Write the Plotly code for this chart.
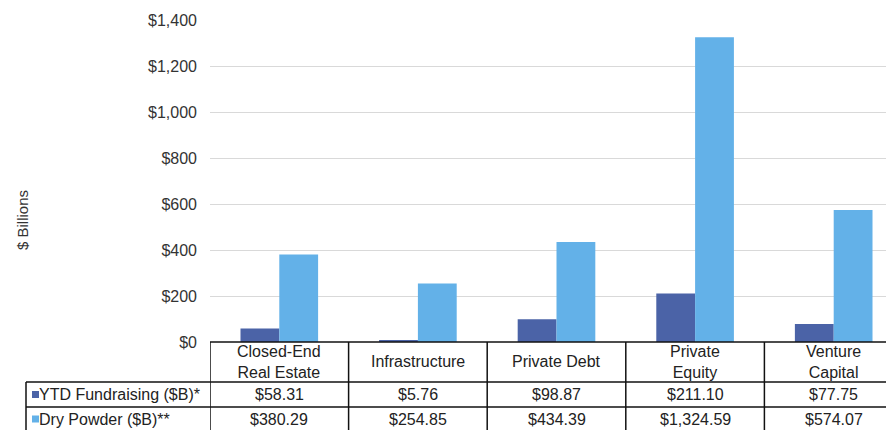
import plotly.graph_objects as go

categories = ["Closed-End<br>Real Estate", "Infrastructure", "Private Debt", "Private<br>Equity", "Venture<br>Capital"]
series_names = ["YTD Fundraising ($B)*", "Dry Powder ($B)**"]
ytd_fundraising = [58.31, 5.76, 98.87, 211.10, 77.75]
dry_powder = [380.29, 254.85, 434.39, 1324.59, 574.07]
tick_vals = [0, 200, 400, 600, 800, 1000, 1200, 1400]
tick_text = ["$0", "$200", "$400", "$600", "$800", "$1,000", "$1,200", "$1,400"]

colors = ["#4B63A7", "#63B1E8"]
W, H = 886, 430
ML, MR, MT, MB = 210, 0, 20, 88
PW, PH = W - ML - MR, H - MT - MB
FONT = "Liberation Sans, Arial, sans-serif"
TXT = "#222222"

def px_to_py(y):
    return (H - MB - y) / PH

def px_to_px(x):
    return (x - ML) / PW

n = len(categories)
xs = list(range(n))
col_w = 138.6
x_max = (PW / col_w) - 0.5

fig = go.Figure()
for name, vals, c in zip(series_names, [ytd_fundraising, dry_powder], colors):
    fig.add_trace(go.Bar(x=xs, y=vals, name=name, marker=dict(color=c, line=dict(width=0)),
                         showlegend=False, hoverinfo="y"))

shapes = []
annotations = []
line = dict(color="#111111", width=1.5)
y_top = px_to_py(342)
y_r1 = px_to_py(382)
y_r2 = px_to_py(407)
y_bot = px_to_py(440)
x_leg = px_to_px(26)

# horizontal table lines
shapes.append(dict(type="line", xref="paper", yref="paper", x0=0, x1=1, y0=y_top, y1=y_top, line=line))
for yy in (y_r1, y_r2):
    shapes.append(dict(type="line", xref="paper", yref="paper", x0=x_leg, x1=1, y0=yy, y1=yy, line=line))
# vertical lines
shapes.append(dict(type="line", xref="paper", yref="paper", x0=x_leg, x1=x_leg, y0=y_r1, y1=y_bot, line=line))
for i in range(n + 1):
    xv = i - 0.5
    if xv <= x_max:
        shapes.append(dict(type="line", xref="x", yref="paper", x0=xv, x1=xv, y0=y_top, y1=y_bot, line=line))

# header row
for i, cat in enumerate(categories):
    annotations.append(dict(x=i, y=(y_top + y_r1) / 2, xref="x", yref="paper", text=cat, showarrow=False,
                            font=dict(family=FONT, size=16, color=TXT), align="center", yanchor="middle"))

def fmt(v):
    return "${:,.2f}".format(v)

row_ys = [(y_r1 + y_r2) / 2, (y_r2 + px_to_py(431)) / 2]
for r, (name, vals, c) in enumerate(zip(series_names, [ytd_fundraising, dry_powder], colors)):
    yc = row_ys[r]
    # legend key square
    sq_y = 394.5 if r == 0 else 419
    shapes.append(dict(type="rect", xref="paper", yref="paper",
                       x0=px_to_px(32), x1=px_to_px(39), y0=px_to_py(sq_y + 3.5), y1=px_to_py(sq_y - 3.5),
                       fillcolor=c, line=dict(width=0)))
    annotations.append(dict(x=px_to_px(37), y=yc, xref="paper", yref="paper", text=name, showarrow=False,
                            xanchor="left", yanchor="middle", font=dict(family=FONT, size=16, color=TXT)))
    for i, v in enumerate(vals):
        annotations.append(dict(x=i, y=yc, xref="x", yref="paper", text=fmt(v), showarrow=False,
                                yanchor="middle", font=dict(family=FONT, size=16, color=TXT)))

# y-axis title
annotations.append(dict(x=px_to_px(22), y=px_to_py(220), xref="paper", yref="paper", text="$ Billions",
                        textangle=-90, showarrow=False, xanchor="center", yanchor="middle",
                        font=dict(family=FONT, size=15, color="#333333")))

fig.update_layout(
    width=W, height=H,
    margin=dict(l=ML, r=MR, t=MT, b=MB, pad=0),
    paper_bgcolor="white", plot_bgcolor="white",
    barmode="group", bargap=0.44, bargroupgap=0,
    shapes=shapes, annotations=annotations,
    font=dict(family=FONT),
    xaxis=dict(range=[-0.5, x_max], showticklabels=False, showgrid=False, zeroline=False,
               showline=False, ticks="", fixedrange=True),
    yaxis=dict(range=[0, 1400], tickvals=tick_vals, ticktext=tick_text, showgrid=True,
               gridcolor="#D9D9D9", gridwidth=1.3, zeroline=False, showline=False,
               tickfont=dict(family=FONT, size=16, color="#333333"), ticks="",
               ticklabelstandoff=12, fixedrange=True),
)

fig.write_html("out.html", config={"displayModeBar": False},
               post_script="document.body.style.margin='0px';document.body.style.overflow='hidden';")
